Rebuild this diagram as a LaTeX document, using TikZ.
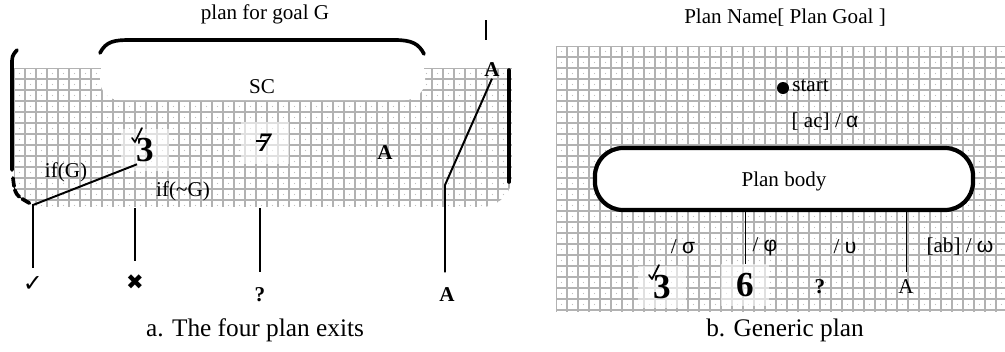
\documentclass[tikz,border=0pt]{standalone}
\usepackage{fontspec}
\setmainfont{Liberation Serif}
\newfontfamily\dejavu{DejaVu Sans}
\newfontfamily\greeksans{Liberation Sans}
\usepackage{tikz}
\usetikzlibrary{positioning, calc}
\newcommand{\boldthree}{{\fontsize{25}{25}\selectfont\textbf{3}}}
\newcommand{\strokeseven}{\rlap{\kern-1pt\raisebox{7pt}{\rule{7pt}{1.3pt}}}{\fontsize{19}{19}\selectfont\textbf{\textit{7}}}}
\newcommand{\bigsix}{{\fontsize{25}{25}\selectfont\textbf{6}}}

\begin{document}
\begin{tikzpicture}[x=0.025cm, y=-0.025cm,
    lbl/.style={font=\fontsize{15}{17}\selectfont, inner sep=1pt},
    boldlbl/.style={lbl, font=\fontsize{15}{17}\selectfont\bfseries},
    caption/.style={font=\fontsize{18}{20}\selectfont},
    gridline/.style={gray!60, line width=0.8pt},
    griddot/.style={gray!50},
    border/.style={line width=2.6pt, line cap=round},
    exitline/.style={line width=1.4pt},
    thinline/.style={line width=0.6pt},
    tickmark/.style={line width=1.2pt, line cap=round, line join=round},
    patch/.style={lbl, fill=white, fill opacity=0.6, text opacity=1, minimum width=1.2cm, minimum height=1.05cm},
]
\useasboundingbox (0,0) rectangle (1005,351);

% a. the four plan exits
\begin{scope}
  \path[clip] (14,68) -- (512,68) [rounded corners=22] -- (512,207) -- (14,207) [sharp corners] -- cycle;
  \foreach \x in {14,25,...,512} \draw[gridline] (\x,68) -- (\x,207);
  \foreach \y in {68,79,...,207} \draw[gridline] (14,\y) -- (512,\y);
  \foreach \x in {14,25,...,503}
    \foreach \y in {68,79,...,200}
      \fill[griddot] (\x+5.5,\y+5.5) circle (0.5pt);
\end{scope}
\fill[white, rounded corners=14] (100,55) rectangle (425,100);

\node[lbl] (goal) at (265,14) {plan for goal G};
\node[lbl] (sc) at (262,87) {SC};
\draw[border] (100,53) .. controls (106,41) and (115,40) .. (130,40) -- (395,40)
    .. controls (412,40) and (419,44) .. (424,54);
\draw[border] (17,50) .. controls (12,56) .. (12,66) -- (12,170);
\draw[border, dash pattern=on 6pt off 2.5pt] (13,178) .. controls (15,195) .. (31,204);
\draw[border] (509,70) -- (509,182);

\node[patch] (tick3) at (145,150) {\boldthree};
\draw[tickmark] ([shift={(-13,-12)}]tick3.center) -- ++(3,4) -- ++(7,-14);
\node[patch] (seven) at (265,143) {\strokeseven};
\node[boldlbl] (midA) at (385,153) {A};
\node[boldlbl] (topA) at (492,70) {A};
\node[lbl] (ifg) at (66,172) {if(G)};
\node[lbl] (ifng) at (183,191) {if(\textasciitilde G)};

\node[lbl] (okexit) at (33,284) {\dejavu\fontsize{17}{17}\selectfont ✓};
\node[lbl] (failexit) at (135,282) {\dejavu ✖};
\node[boldlbl] (dropexit) at (260,295) {?};
\node[boldlbl] (abortexit) at (447,295) {A};

\coordinate (okbend) at (33,205);
\coordinate (failtop) at (135,208);
\coordinate (droptop) at (260,208);
\coordinate (abortbend) at (445,185);
\coordinate (sticktop) at (486,20);
\coordinate (stickend) at (486,40);

\draw[exitline] ([shift={(-8,-7)}]tick3.south) -- (okbend) -- ([shift={(0,-7)}]okexit.north);
\draw[exitline] (failtop) -- ([shift={(0,-12)}]failexit.north -| failtop);
\draw[exitline] (droptop) -- ([shift={(0,-14)}]dropexit.north -| droptop);
\draw[exitline] (topA.south) -- (abortbend) -- ([shift={(0,-14)}]abortexit.north -| abortbend);
\draw[exitline] (sticktop) -- (stickend);

\node[caption] (capa) at (255,330) {a. The four plan exits};

% b. generic plan
\begin{scope}
  \clip (556,46) rectangle (1005,312);
  \foreach \x in {556,567,...,1005} \draw[gridline] (\x,46) -- (\x,312);
  \foreach \y in {46,57,...,312} \draw[gridline] (556,\y) -- (1005,\y);
  \foreach \x in {556,567,...,1000}
    \foreach \y in {46,57,...,305}
      \fill[griddot] (\x+5.5,\y+5.5) circle (0.5pt);
\end{scope}

\node[lbl] (planname) at (785,18) {Plan Name[ Plan Goal ]};
\node[circle, fill, minimum size=0.3cm, inner sep=0pt] (startdot) at (783,88) {};
\node[lbl, right=1pt of startdot, yshift=2pt] (start) {start};
\node[lbl] (ac) at (825,122) {[ ac] / {\greeksans α}};

\node[lbl, draw, line width=3pt, fill=white, rounded corners=20pt,
      minimum width=9.45cm, minimum height=1.55cm, text depth=-4pt] (body) at (784,179) {Plan body};

\node[lbl] (sigma) at (683,247) {/ {\greeksans σ}};
\node[lbl] (phi) at (765,247) {/ {\greeksans φ}};
\node[lbl] (upsilon) at (845,247) {/ {\greeksans υ}};
\node[lbl] (omega) at (960,247) {[ab] / {\greeksans ω}};

\node[patch] (okb) at (662,287) {\boldthree};
\draw[tickmark] ([shift={(-13,-12)}]okb.center) -- ++(3,4) -- ++(7,-14);
\node[patch] (failb) at (745,285) {\bigsix};
\node[boldlbl] (dropb) at (820,287) {?};
\node[lbl] (abortb) at (906,287) {A};

\draw[thinline] (body.south -| failb) -- (failb.north);
\draw[thinline] (body.south -| abortb) -- ([shift={(0,-6)}]abortb.north);

\node[caption] (capb) at (785,330) {b. Generic plan};
\end{tikzpicture}
\end{document}
